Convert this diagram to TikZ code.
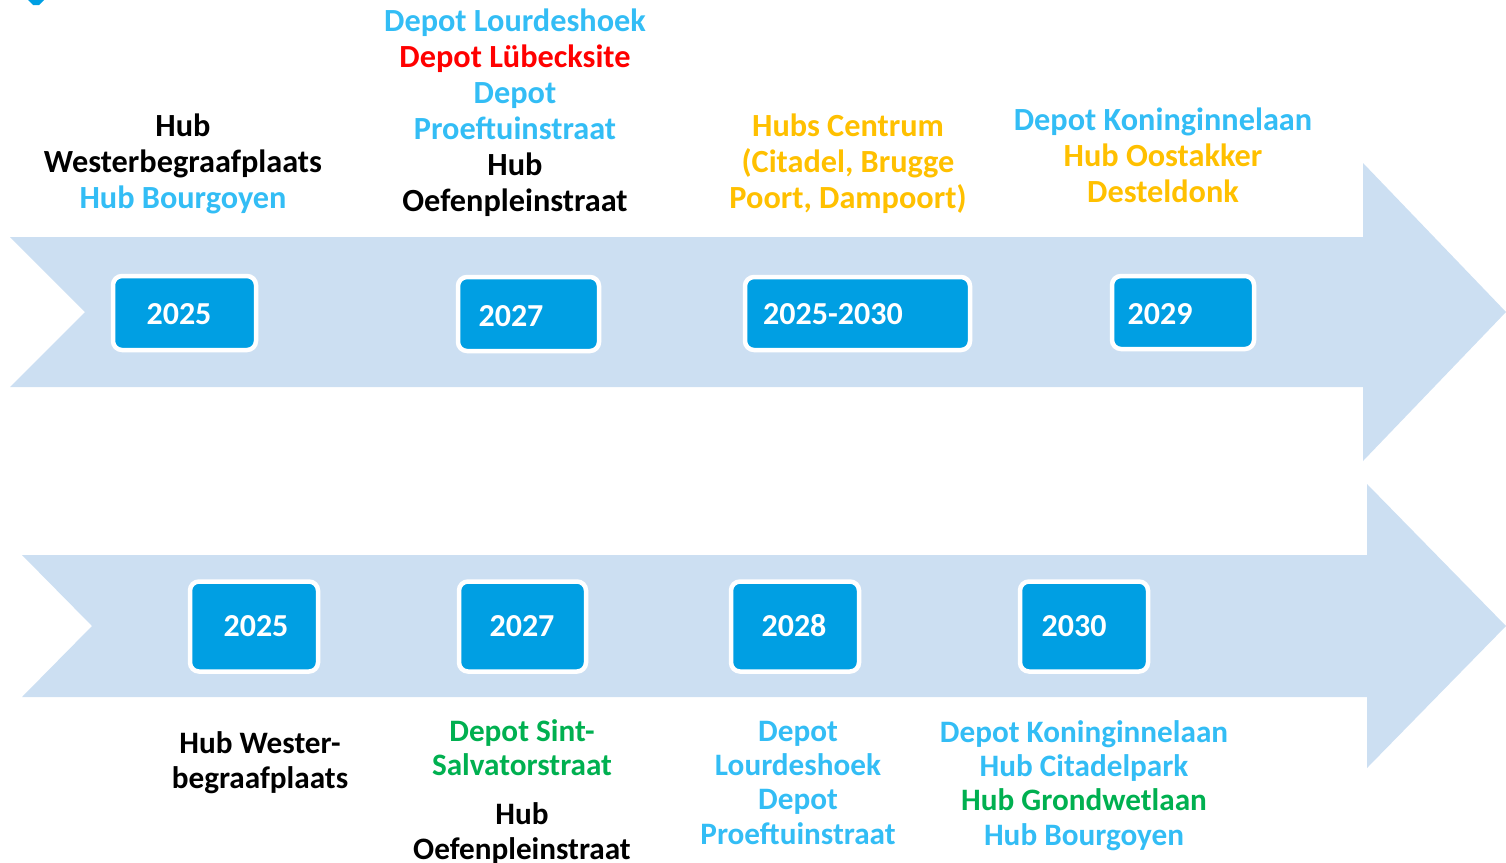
\documentclass[tikz,border=0pt]{standalone}
\usepackage{fontspec}
\setmainfont{Carlito}
\definecolor{arrowfill}{HTML}{CCDFF2}
\definecolor{boxblue}{HTML}{009FE3}
\definecolor{lblue}{HTML}{33BDF5}
\definecolor{dred}{HTML}{FF0000}
\definecolor{orng}{HTML}{FFC000}
\definecolor{grn}{HTML}{00B050}
\begin{document}
\begin{tikzpicture}[x=1pt,y=-1pt,
  txt/.style={font=\fontsize{32.3}{36}\selectfont\bfseries, align=center, anchor=base, inner sep=0pt},
  txtb/.style={font=\fontsize{31.2}{34.3}\selectfont\bfseries, align=center, anchor=base, inner sep=0pt},
  yearbox/.style={draw=white, line width=4.5pt, fill=boxblue, rounded corners=9pt, inner sep=0pt},
  yeartxt/.style={text=white, font=\fontsize{32}{36}\selectfont\bfseries, inner sep=0pt},
  bigarrow/.style={fill=arrowfill, draw=none}]
\useasboundingbox (0,0) rectangle (1506,862);

% fragment top-left
\fill[boxblue] (28,0) -- (44,0) -- (39,5) -- (33,5) -- cycle;

% arrows
\path[bigarrow] (10,237) -- (1363,237) -- (1363,163) -- (1506,312) -- (1363,461) -- (1363,387) -- (10,387) -- (85,312) -- cycle;
\path[bigarrow] (22,555) -- (1367,555) -- (1367,484) -- (1506,626) -- (1367,768) -- (1367,697) -- (22,697) -- (92,626) -- cycle;

% top boxes
\node[yearbox, minimum width=143pt, minimum height=74pt] (tb1) at (184.5,313) {};
\node[yearbox, minimum width=141pt, minimum height=74pt] (tb2) at (528.5,314) {};
\node[yearbox, minimum width=225pt, minimum height=73pt] (tb3) at (857.5,313.5) {};
\node[yearbox, minimum width=142pt, minimum height=73pt] (tb4) at (1183,312.5) {};
\node[yeartxt] (ty1) at (179,314) {2025};
\node[yeartxt] (ty2) at (511,316) {2027};
\node[yeartxt] (ty3) at (833,314) {2025-2030};
\node[yeartxt] (ty4) at (1160,314) {2029};

% bottom boxes
\node[yearbox, minimum width=128pt, minimum height=90pt] (bb1) at (254,626.5) {};
\node[yearbox, minimum width=127pt, minimum height=90pt] (bb2) at (522.5,626.5) {};
\node[yearbox, minimum width=128pt, minimum height=90pt] (bb3) at (795,626.5) {};
\node[yearbox, minimum width=128pt, minimum height=90pt] (bb4) at (1084,626.5) {};
\node[yeartxt] (by1) at (256,626) {2025};
\node[yeartxt] (by2) at (522,626) {2027};
\node[yeartxt] (by3) at (794,626) {2028};
\node[yeartxt] (by4) at (1074,626) {2030};

% top texts (base anchor = baseline of last line)
\node[txt] (tt1) at (183,208) {Hub\\Westerbegraafplaats\\\textcolor{lblue}{Hub Bourgoyen}};
\node[txt] (tt2) at (515,211) {\textcolor{lblue}{Depot Lourdeshoek}\\\textcolor{dred}{Depot Lübecksite}\\\textcolor{lblue}{Depot}\\\textcolor{lblue}{Proeftuinstraat}\\Hub\\Oefenpleinstraat};
\node[txt, text=orng] (tt3) at (848,208) {Hubs Centrum\\(Citadel, Brugge\\Poort, Dampoort)};
\node[txt] (tt4) at (1163,202) {\textcolor{lblue}{Depot Koninginnelaan}\\\textcolor{orng}{Hub Oostakker}\\\textcolor{orng}{Desteldonk}};

% bottom texts
\node[txtb] (bt1) at (260,788) {Hub Wester-\\begraafplaats};
\node[txtb] (bt2) at (522,859) {\textcolor{grn}{Depot Sint-}\\\textcolor{grn}{Salvatorstraat}\\[15pt]Hub\\Oefenpleinstraat};
\node[txtb, text=lblue] (bt3) at (798,844) {Depot\\Lourdeshoek\\Depot\\Proeftuinstraat};
\node[txtb] (bt4) at (1084,845) {\textcolor{lblue}{Depot Koninginnelaan}\\\textcolor{lblue}{Hub Citadelpark}\\\textcolor{grn}{Hub Grondwetlaan}\\\textcolor{lblue}{Hub Bourgoyen}};
\end{tikzpicture}
\end{document}
